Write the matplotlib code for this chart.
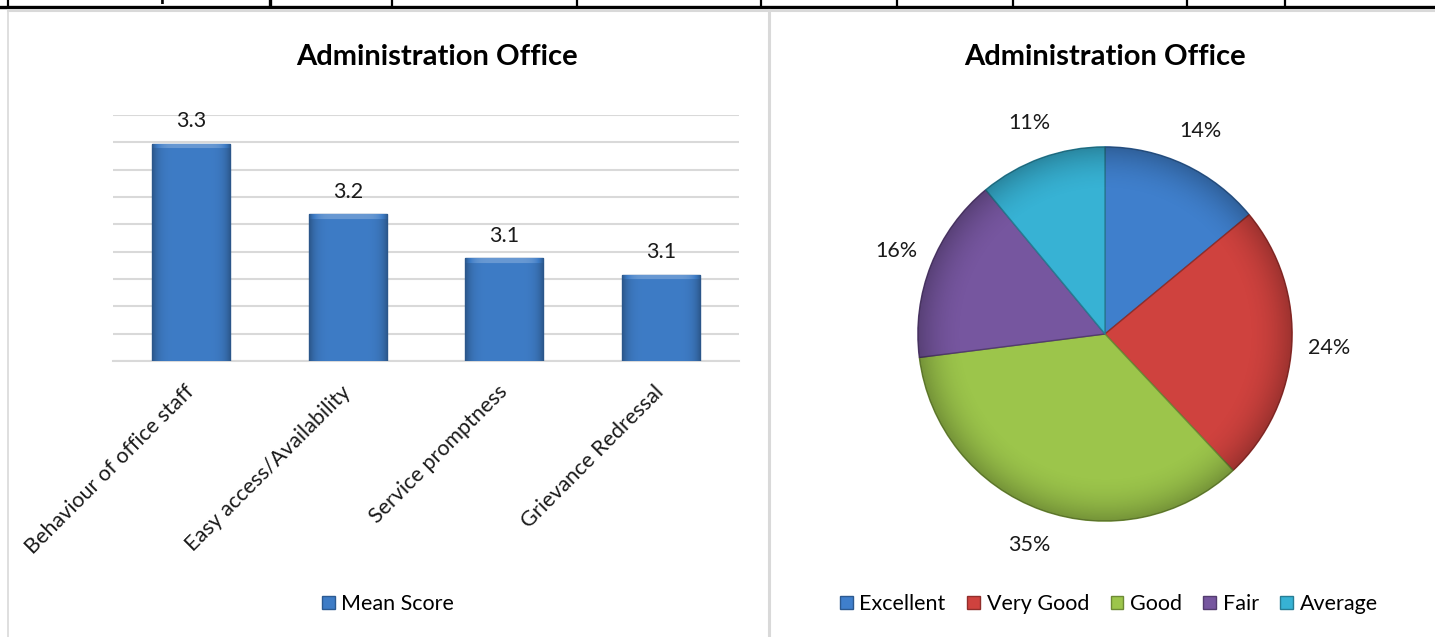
import numpy as np
import matplotlib
matplotlib.use("Agg")
import matplotlib.pyplot as plt
from matplotlib.lines import Line2D
from matplotlib.patches import Patch
from matplotlib.colors import to_rgb

plt.rcParams["font.family"] = ["Lato", "DejaVu Sans"]

# ---- data ----
TITLE = "Administration Office"
aspects = ["Behaviour of office staff", "Easy access/Availability",
           "Service promptness", "Grievance Redressal"]
mean_scores = [3.265, 3.179, 3.125, 3.105]
bar_series = "Mean Score"

ratings = ["Excellent", "Very Good", "Good", "Fair", "Average"]
rating_pct = [14, 24, 35, 16, 11]
rating_colors = ["#3f7fcc", "#cf423e", "#9cc54b", "#76569f", "#37b2d4"]

BAR_COLOR = "#3e7cc6"
GRID = "#d9d9d9"
TXT = 15.5

W, H = 1435, 637
fig = plt.figure(figsize=(W / 100, H / 100), dpi=100)


def px(x0, y0, x1, y1):
    """pixel box (top-left origin) -> figure fraction rect"""
    return [x0 / W, 1 - y1 / H, (x1 - x0) / W, (y1 - y0) / H]


def shade(color, f):
    r, g, b = to_rgb(color)
    if f < 1:
        return (r * f, g * f, b * f)
    return (r + (1 - r) * (f - 1), g + (1 - g) * (f - 1), b + (1 - b) * (f - 1))


# ---- page furniture: the table row above the charts, panel borders ----
for y, c, lw in [(6.5, "black", 2.4), (9.5, GRID, 2.2)]:
    fig.add_artist(Line2D([0 if c == "black" else 8 / W, 1], [1 - y / H] * 2,
                          color=c, lw=lw, transform=fig.transFigure))
for x in [8, 270, 392, 577, 761, 897, 1013, 1187, 1285]:
    fig.add_artist(Line2D([x / W] * 2, [1, 1 - 6 / H], color="black",
                          lw=1.6 if x != 270 else 2.4, transform=fig.transFigure))
fig.text(20 / W, 1 + 16 / H, "Total no. of responses", fontsize=15,
         fontweight="bold", va="top", color="black")
fig.add_artist(Line2D([8 / W] * 2, [1 - 10 / H, 0], color=GRID, lw=1.2,
                      transform=fig.transFigure))
fig.add_artist(Line2D([769 / W] * 2, [1 - 10 / H, 0], color=GRID, lw=2.2,
                      transform=fig.transFigure))

# ---- bar chart ----
ax = fig.add_axes(px(113, 115, 739, 361))
ymin, ymax = 3.0, 3.3
x = np.arange(len(aspects))
bars = ax.bar(x, mean_scores, width=0.5, color=BAR_COLOR,
              edgecolor="#2b5a92", linewidth=1.0, zorder=3)

# bevel shading inside each bar: darker sides, thin light strip on top
cols = np.linspace(-1, 1, 64)
grad = 1 - 0.3 * cols ** 6
for b in bars:
    bx, bw = b.get_x(), b.get_width()
    top = b.get_y() + b.get_height()
    rows = max(int((top - ymin) / (ymax - ymin) * 246), 10)
    img = np.array([[shade(BAR_COLOR, g) for g in grad]] * rows)
    img[:5] = [shade(BAR_COLOR, 1.22 - 0.5 * abs(c) ** 6) for c in cols]
    im = ax.imshow(img, extent=[bx, bx + bw, ymin, top], aspect="auto",
                   origin="upper", zorder=3.5, interpolation="bilinear")
    im.set_clip_path(b)
ax.set_xlim(-0.5, len(aspects) - 0.5)
ax.set_ylim(ymin, ymax)

for xi, v in zip(x, mean_scores):
    ax.annotate(f"{v:.1f}", (xi, v), xytext=(0, 9), textcoords="offset points",
                ha="center", va="bottom", fontsize=TXT, color="#1a1a1a")

ax.set_yticks(np.linspace(ymin, ymax, 10))
ax.yaxis.grid(True, color=GRID, lw=1.5, zorder=0)
ax.tick_params(axis="y", left=False, labelleft=False)
ax.tick_params(axis="x", length=0, pad=20)
ax.set_xticks(x)
ax.set_xticklabels(aspects, rotation=45, ha="right", va="center",
                   rotation_mode="anchor", fontsize=TXT, color="#1a1a1a")
for s in ["top", "right", "left"]:
    ax.spines[s].set_visible(False)
ax.spines["bottom"].set_color(GRID)
ax.spines["bottom"].set_linewidth(1.5)

fig.text(437 / W, 1 - 57 / H, TITLE, ha="center", va="center",
         fontsize=21, fontweight="bold", color="black")
fig.legend(handles=[Patch(facecolor=BAR_COLOR, edgecolor="#2b5a92")],
           labels=[bar_series], loc="center", bbox_to_anchor=(388 / W, 1 - 604 / H),
           frameon=False, fontsize=TXT, handlelength=0.6, handleheight=0.6,
           handletextpad=0.3)

# ---- pie chart ----
cx, cy, r = 1105, 334, 189
pax = fig.add_axes(px(cx - r, cy - r, cx + r, cy + r))
wedges, _, pct = pax.pie(rating_pct, colors=rating_colors, startangle=90,
                         counterclock=False, radius=1.0,
                         autopct="%1.0f%%", pctdistance=1.2,
                         wedgeprops=dict(linewidth=1.0),
                         textprops=dict(fontsize=TXT, color="#1a1a1a"))
for w, c in zip(wedges, rating_colors):
    w.set_edgecolor(shade(c, 0.7))

# darker rim to give the slices a rounded look
n = 400
yy, xx = np.mgrid[-1:1:n * 1j, -1:1:n * 1j]
rr = np.hypot(xx, yy)
overlay = np.zeros((n, n, 4))
overlay[..., 3] = np.clip((rr - 0.75) / 0.25, 0, 1) ** 2 * 0.25
ov = pax.imshow(overlay, extent=[-1, 1, -1, 1], zorder=5, interpolation="bilinear")
ov.set_clip_path(plt.Circle((0, 0), 1.0, transform=pax.transData))

pax.set_xlim(-1.01, 1.01)
pax.set_ylim(-1.01, 1.01)
pax.set_aspect("equal")
pax.axis("off")

fig.text(1105 / W, 1 - 57 / H, TITLE, ha="center", va="center",
         fontsize=21, fontweight="bold", color="black")
fig.legend(handles=[Patch(facecolor=c, edgecolor=shade(c, 0.7)) for c in rating_colors],
           labels=ratings, loc="center", ncol=len(ratings),
           bbox_to_anchor=(1109 / W, 1 - 604 / H), frameon=False, fontsize=TXT,
           handlelength=0.6, handleheight=0.6, handletextpad=0.3, columnspacing=1.0)

fig.savefig("out.png", dpi=100)
